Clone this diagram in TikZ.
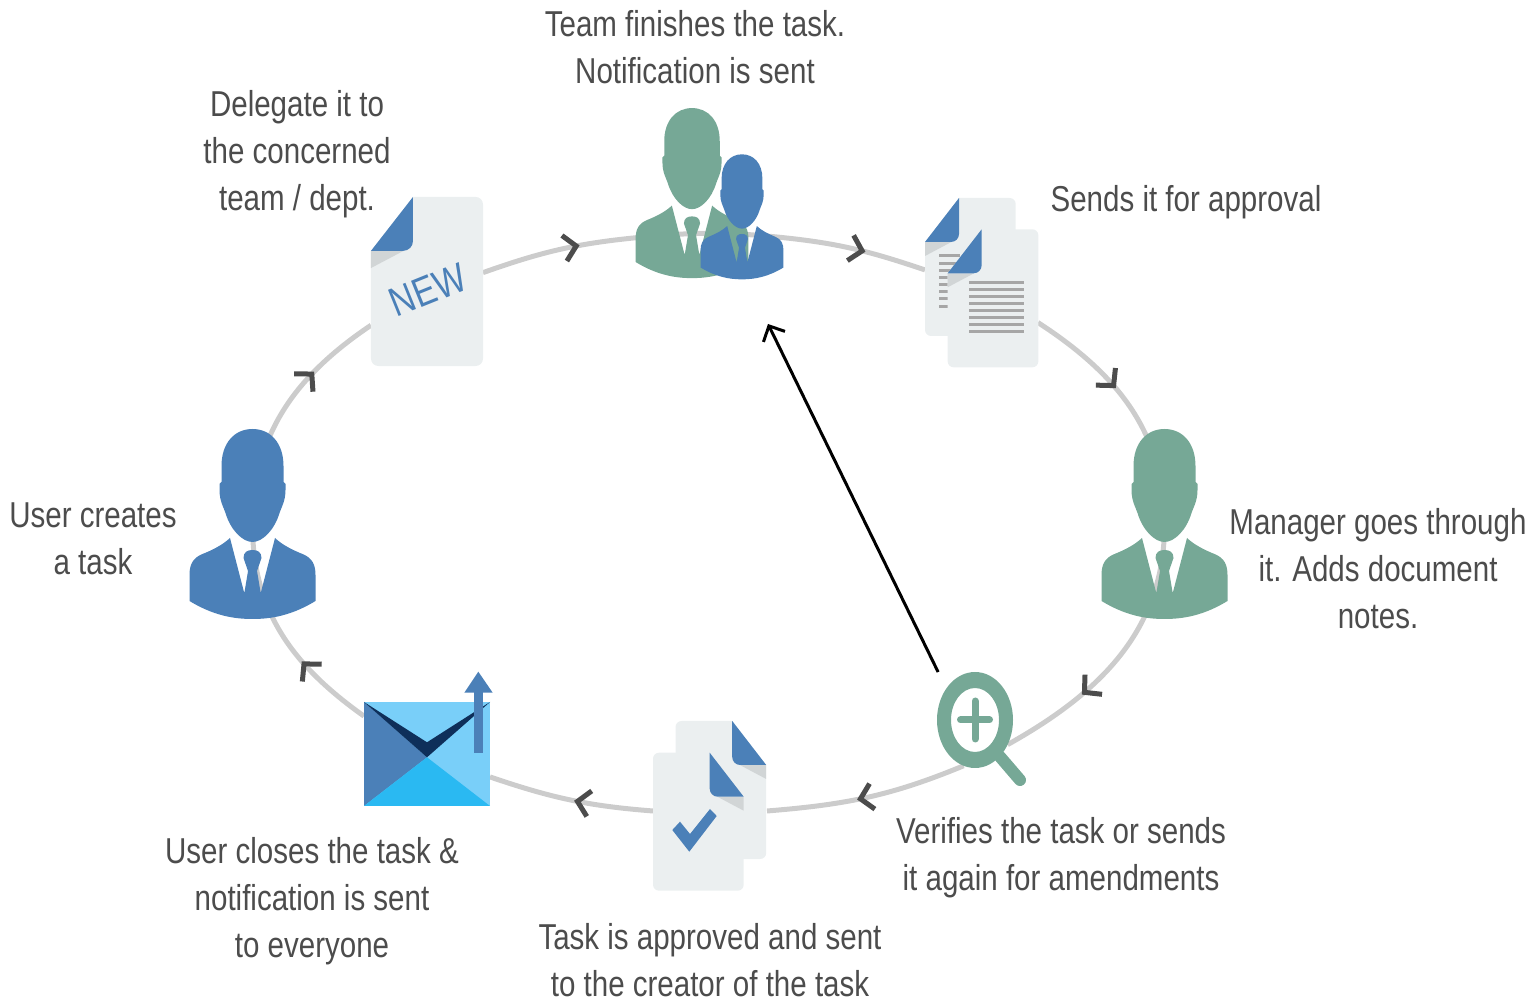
\documentclass[tikz,border=0pt]{standalone}
\usepackage{fontspec}
\setmainfont[FakeStretch=0.82]{Liberation Sans}
\usepackage{xcolor}
\definecolor{Steel}{HTML}{4b80b8}
\definecolor{Sage}{HTML}{76a896}
\definecolor{Paper}{HTML}{ebeff0}
\definecolor{Fold}{HTML}{d1d5d6}
\definecolor{Sky}{HTML}{79cff9}
\definecolor{Azure}{HTML}{2ab9f2}
\definecolor{Navy}{HTML}{0e2f5a}
\colorlet{cBlue}{Steel}
\colorlet{cGreen}{Sage}
\colorlet{cRing}{black!20}
\colorlet{cTip}{black!70}
\colorlet{cText}{black!70}
\usepackage{tikz}
\usetikzlibrary{arrows.meta, decorations.markings, shapes.geometric}
\tikzset{
	>={Straight Barb[length=12pt, width=24pt]},
	iconbox/.style={
		inner sep=0pt,
		outer sep=0pt
	},
	caption/.style={
		font=\fontsize{36}{47}\selectfont,
		text=cText,
		align=center,
		inner sep=0pt
	},
	ring/.style={
		draw=cRing,
		line width=5pt
	},
	ringtip/.style={
		postaction={decorate},
		decoration={markings, mark=at position #1 with {\draw[cTip, line width=5pt] (-11,13) -- (1,0) -- (-11,-13);}}
	},
	textline/.style={
		draw=black!35,
		line width=3pt
	},
	person/.pic={
		\fill[#1] (0,96) .. controls (18,96) and (31,82) .. (31,59) -- (31,43) -- (33,41) -- (33,35)
			.. controls (33,24) and (29,18) .. (27,12) .. controls (22,-5) and (10,-17) .. (0,-17)
			.. controls (-10,-17) and (-22,-5) .. (-27,12) .. controls (-29,18) and (-33,24) .. (-33,35)
			-- (-33,41) -- (-31,43) -- (-31,59) .. controls (-31,82) and (-18,96) .. (0,96) -- cycle;
		\fill[#1] (-22.5,-13) -- (-8.5,-67) -- (-8,-67) -- (-4.5,-46) -- (-9,-33)
			.. controls (-9,-27) and (-5,-25) .. (0,-25) .. controls (5,-25) and (9,-27) .. (9,-33)
			-- (4.5,-46) -- (8,-67) -- (8.5,-67) -- (22.5,-13)
			.. controls (30,-20) and (40,-25) .. (50,-29) .. controls (60,-33) and (63,-40) .. (63,-50)
			-- (63,-76) .. controls (40,-90) and (20,-94) .. (0,-94) .. controls (-20,-94) and (-40,-90) .. (-63,-76)
			-- (-63,-50) .. controls (-63,-40) and (-60,-33) .. (-50,-29) .. controls (-40,-25) and (-30,-20) .. (-22.5,-13) -- cycle;
	},
	paper/.pic={
		\fill[Paper] (-45.35,25) -- (-11.35,69) -- (39.35,69) arc[start angle=90, end angle=0, radius=6]
			-- (45.35,-63) arc[start angle=0, end angle=-90, radius=6]
			-- (-39.35,-69) arc[start angle=-90, end angle=-180, radius=6] -- cycle;
		\fill[Fold] (-45.35,25) -- (-19,25) -- (-45.35,11) -- cycle;
		\fill[cBlue] (-45.35,25) -- (-11.35,69) -- (-11.35,33) arc[start angle=0, end angle=-90, radius=8] -- cycle;
	},
	envelope/.pic={
		\fill[Sky] (-63,-52) rectangle (63,52);
		\fill[cBlue] (-63,52) -- (0,-3.3) -- (-63,-52) -- cycle;
		\fill[Azure] (-63,-52) -- (0,-3.3) -- (63,-52) -- cycle;
		\fill[Navy] (-63,52) -- (0,11.7) -- (63,52) -- (0,-3.3) -- cycle;
		\fill[cBlue] (47,1) rectangle (56.3,64);
		\fill[cBlue] (51.3,82.3) -- (65.7,61.3) -- (37.3,61.3) -- cycle;
	},
	magnifier/.pic={
		\draw[cGreen, line width=12pt, line cap=round] (25,-36.7) -- (45,-60);
		\fill[cGreen, even odd rule] (0,0) ellipse[x radius=38, y radius=48] (0,0) ellipse[x radius=24, y radius=32];
		\draw[cGreen, line width=7pt, line cap=round] (0,-19) -- (0,19) (-14.5,0) -- (14.5,0);
	}
}
\begin{document}
\begin{tikzpicture}[x=1pt, y=1pt]
\useasboundingbox (0,0) rectangle (1537,1002);
% ---
% icon places
% ---
\node[iconbox, minimum width=127, minimum height=190] at (252.5,477) (user) {};
\node[iconbox, minimum width=112, minimum height=169] at (427,720.5) (newdoc) {};
\node[iconbox, minimum width=148, minimum height=172] at (710,807) (team) {};
\node[iconbox, minimum width=113, minimum height=170] at (981.5,719) (docs) {};
\node[iconbox, minimum width=127, minimum height=190] at (1164.5,477) (manager) {};
\node[iconbox, ellipse, minimum width=76, minimum height=96] at (975,282) (lens) {};
\node[iconbox, minimum width=114, minimum height=170] at (710,196) (approved) {};
\node[iconbox, minimum width=126, minimum height=104] at (427,248) (mail) {};
\coordinate (retry) at (768,678);

% ---
% ring
% ---
\draw[ring, ringtip=.68] (user.center) to[out=90, in=213.9] (newdoc.218.5);
\draw[ring, ringtip=.61] (newdoc.9.6) to[out=19.5, in=185.7] (team.210.4);
\draw[ring] (team.210.4) to[out=5.7, in=174] (team.-30.4);
\draw[ring, ringtip=.54] (team.-30.4) to[out=-6, in=161.3] (docs.167);
\draw[ring, ringtip=.39] (docs.-35.3) to[out=-33, in=90] (manager.center);
\draw[ring, ringtip=.67] (manager.center) to[out=-90, in=29.2] (lens.-37.6);
\draw[ring, ringtip=.53] (lens.256.6) to[out=202.5, in=4.6] (approved.-5.7);
\draw[ring, ringtip=.45] (approved.185) to[out=175.6, in=-18.8] (mail.-20.9);
\draw[ring, ringtip=.34] (mail.149.9) to[out=144.6, in=-90] (user.center);
\draw[->, line width=3pt] ([shift={(-10,14)}]lens.north west) to (retry);

% ---
% icons
% ---
\pic at (user.center) {person=cBlue};
\pic at (manager.center) {person=cGreen};
\pic[scale=.895] at (692,808) {person=cGreen};
\pic[scale=.658] at (742,784.5) {person=cBlue};
\pic[xscale=1.235, yscale=1.225] at (newdoc.center) {paper};
\node[iconbox, font=\fontsize{41}{41}\selectfont, text=cBlue, rotate=22] at (428,712) (newmark) {NEW};
\pic at (970.35,735) {paper};
\foreach \i in {0,...,7} {
	\draw[textline] (939.3,746-\i*7.15) -- (960,746-\i*7.15);
}
\pic at (993,703.7) {paper};
\foreach \i in {0,...,7} {
	\draw[textline] (969,719.7-\i*7) -- (1024,719.7-\i*7);
}
\pic[xscale=-1] at (720.85,212) {paper};
\pic[xscale=-1] at (698.35,180.3) {paper};
\fill[cBlue] (672.3,172) -- (680,180.3) -- (690,168) -- (710,193) -- (716.7,186) -- (689.3,150.3) -- cycle;
\pic at (mail.center) {envelope};
\pic at (lens.center) {magnifier};

% ---
% captions
% ---
\node[caption] at (93,463) (user-text) {User creates\\a task};
\node[caption] at (297,848) (newdoc-text) {Delegate it to\\the concerned\\team / dept.};
\node[caption] at (695,955) (team-text) {Team finishes the task.\\Notification is sent};
\node[caption] at (1186,800) (docs-text) {Sends it for approval};
\node[caption] at (1378,433) (manager-text) {Manager goes through\\it. Adds document\\notes.};
\node[caption] at (1061,144) (lens-text) {Verifies the task or sends\\it again for amendments};
\node[caption] at (710,42) (approved-text) {Task is approved and sent\\to the creator of the task};
\node[caption] at (312,101) (mail-text) {User closes the task \&\\notification is sent\\to everyone};
\end{tikzpicture}
\end{document}
